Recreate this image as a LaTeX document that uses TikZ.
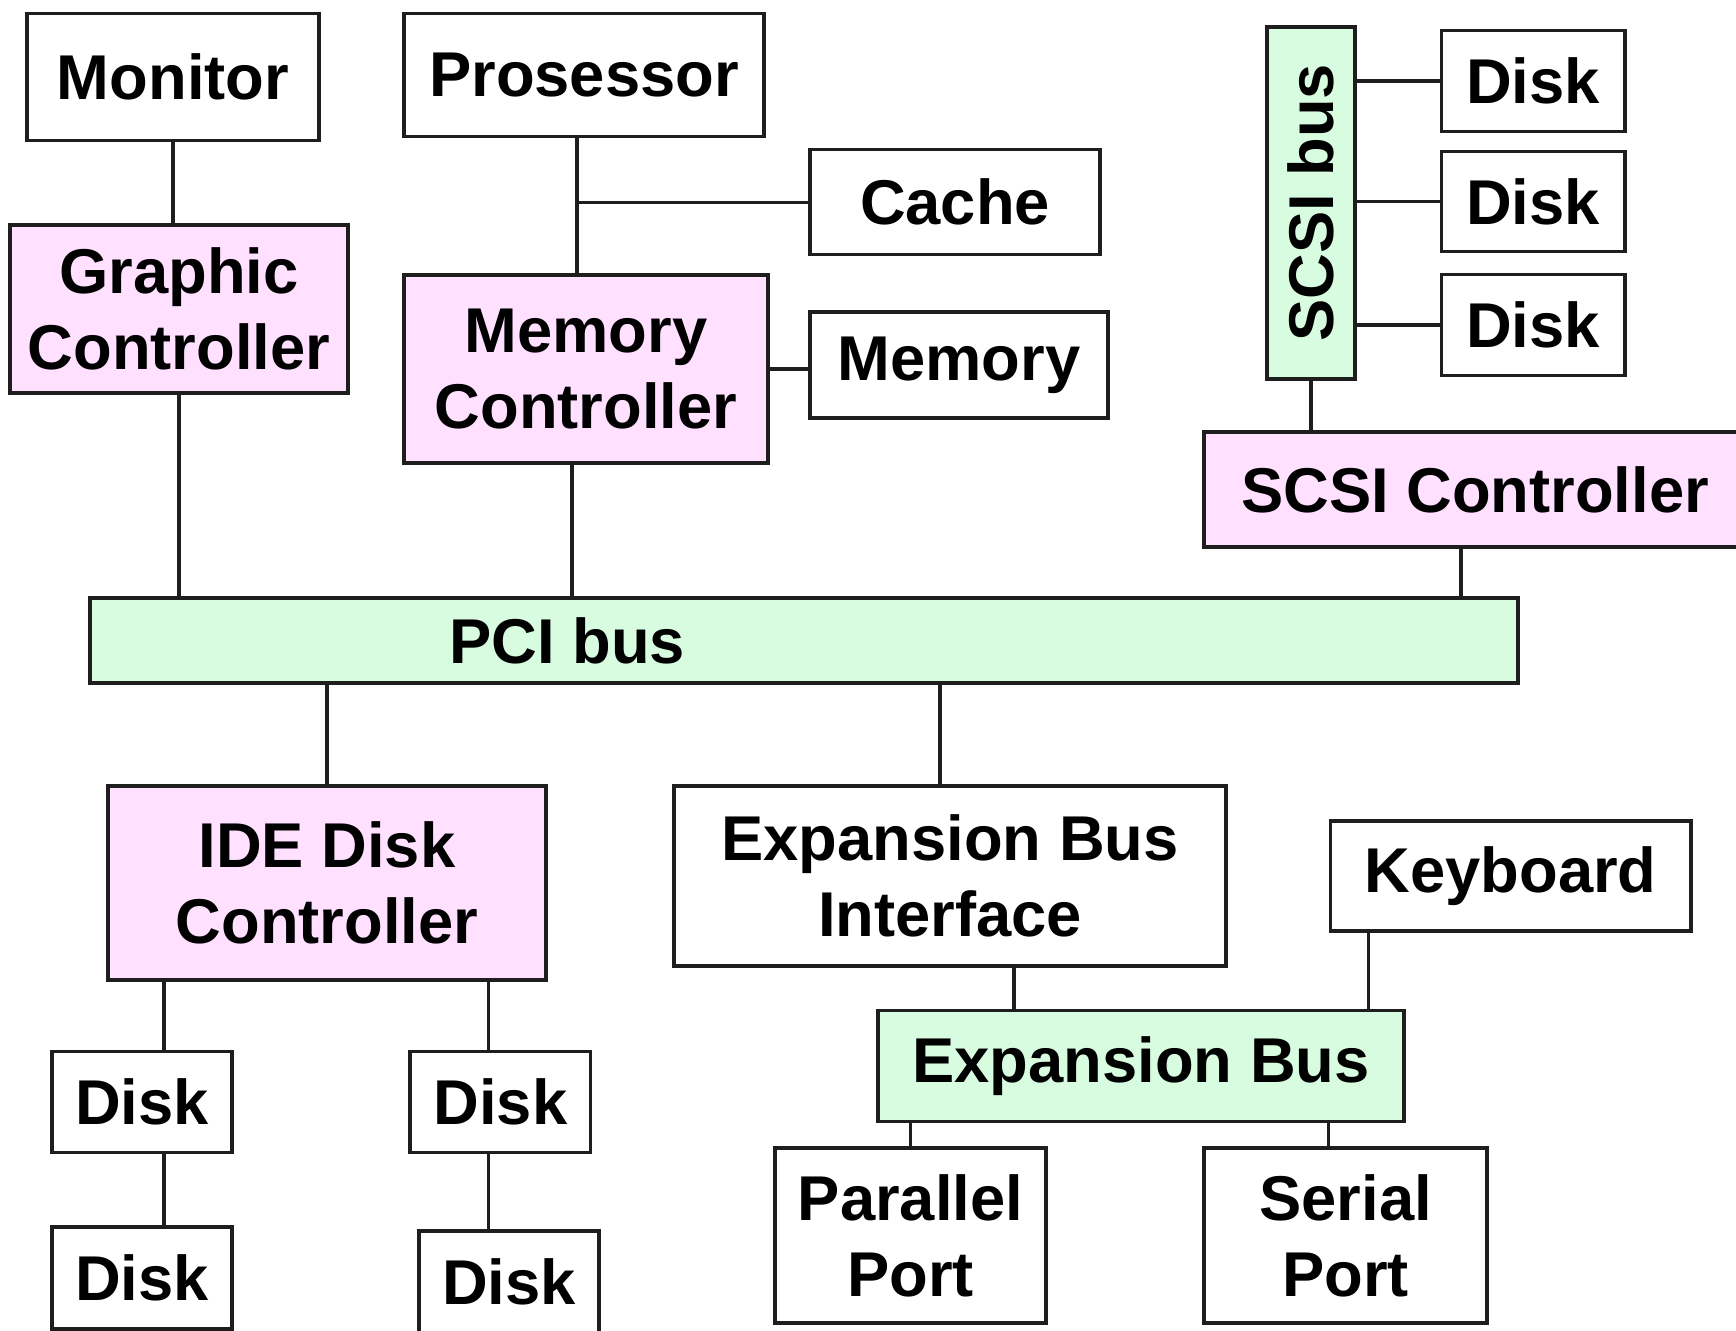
\documentclass[tikz,border=0pt]{standalone}
\usepackage{fontspec}
\usepackage{graphicx}
\setmainfont{Liberation Sans}
\usetikzlibrary{positioning}
\definecolor{CtrlPink}{HTML}{FFE0FF}
\definecolor{BusGreen}{HTML}{D8FCE0}
\definecolor{Wire}{HTML}{1E1E1E}
\tikzset{unit/.style={rectangle,draw=Wire,line width=1.1pt,fill=white,inner sep=0pt,align=center,text=black},ctrl/.style={unit,fill=CtrlPink},bus/.style={unit,fill=BusGreen},link/.style={draw=Wire,line width=1pt}}

\begin{document}
\begin{tikzpicture}[x=0.01cm,y=-0.01cm,font=\bfseries\fontsize{18}{21.6}\selectfont]
\useasboundingbox (0,0) rectangle (1736,1331);
\fill[white] (0,0) rectangle (1736,1331);
\clip (0,0) rectangle (1736,1331);
% upper row
\node[unit,minimum width=2.91cm,minimum height=1.27cm] (Mon) at (173,77) {Monitor};\node[unit,minimum width=3.60cm,minimum height=1.23cm] (Proc) at (584,75) {Prosessor};\node[unit,minimum width=2.89cm,minimum height=1.05cm] (Cache) at (955,202) {Cache};
\node[ctrl,minimum width=3.37cm,minimum height=1.68cm] (Gfx) at (179,309) {Graphic\\Controller};\node[ctrl,minimum width=3.64cm,minimum height=1.88cm] (MemCtrl) at (586,369) {Memory\\Controller};\node[unit,minimum width=2.97cm,minimum height=1.06cm] (Mem) at (959,365) {Memory};
% scsi side
\node[bus,minimum width=0.875cm,minimum height=3.51cm] (SBus) at (1311,203) {\rotatebox{90}{SCSI bus}};
\node[unit,minimum width=1.83cm,minimum height=1.01cm] (SD1) at (1533,81) {Disk};\node[unit,minimum width=1.83cm,minimum height=1.00cm] (SD2) at (1533,201.5) {Disk};\node[unit,minimum width=1.83cm,minimum height=1.01cm] (SD3) at (1533,325) {Disk};
\node[ctrl,minimum width=5.41cm,minimum height=1.15cm] (SCtrl) at (1475,489.5) {SCSI Controller};
% pci bus
\node[bus,minimum width=14.27cm,minimum height=0.85cm,label={[xshift=-2.37cm]center:PCI bus}] (PCI) at (804.3,640.5) {};
% lower part
\node[ctrl,minimum width=4.37cm,minimum height=1.94cm] (IDE) at (327,883) {IDE Disk\\Controller};
\node[unit,minimum width=1.80cm,minimum height=1.01cm] (D1) at (142,1102) {Disk};\node[unit,minimum width=1.80cm,minimum height=1.01cm] (D2) at (500.4,1102) {Disk};
\node[unit,minimum width=1.80cm,minimum height=1.02cm] (D3) at (142,1277.6) {Disk};\node[unit,minimum width=1.80cm,minimum height=1.02cm] (D4) at (509,1282) {Disk};
\node[unit,minimum width=5.52cm,minimum height=1.80cm] (EBI) at (950,876) {Expansion Bus\\Interface};\node[unit,minimum width=3.60cm,minimum height=1.10cm] (Kbd) at (1510.6,876) {Keyboard};
\node[bus,minimum width=5.26cm,minimum height=1.11cm] (XBus) at (1141,1066) {Expansion Bus};
\node[unit,minimum width=2.71cm,minimum height=1.75cm] (Par) at (910.5,1235.6) {Parallel\\Port};\node[unit,minimum width=2.83cm,minimum height=1.75cm] (Ser) at (1345.7,1235.6) {Serial\\Port};
% connectors
\coordinate (CacheTap) at (577,202.6);
\draw[link] (Mon.south) -- (Mon.south |- Gfx.north);\draw[link] (Gfx.south) -- (Gfx.south |- PCI.north);
\draw[link] (Proc.south -| CacheTap) -- (MemCtrl.north -| CacheTap);\draw[link] (CacheTap) -- (CacheTap -| Cache.west);
\draw[link] (MemCtrl.east) -- (MemCtrl.east -| Mem.west);\draw[link] ([xshift=-0.14cm]MemCtrl.south) -- ([xshift=-0.14cm]MemCtrl.south |- PCI.north);
\foreach \d in {SD1,SD2,SD3} \draw[link] (\d.west -| SBus.east) -- (\d.west);
\draw[link] (SBus.south) -- (SBus.south |- SCtrl.north);\draw[link] ([xshift=-0.14cm]SCtrl.south) -- ([xshift=-0.14cm]SCtrl.south |- PCI.north);
\draw[link] (PCI.south -| IDE.north) -- (IDE.north);\draw[link] ([xshift=-0.10cm]EBI.north) -- ([xshift=-0.10cm]EBI.north |- PCI.south);
\draw[link] ([xshift=0.22cm]D1.north) -- ([xshift=0.22cm]D1.north |- IDE.south);\draw[link] ([xshift=0.22cm]D1.south) -- ([xshift=0.22cm]D1.south |- D3.north);
\draw[link] ([xshift=-0.12cm]D2.north) -- ([xshift=-0.12cm]D2.north |- IDE.south);\draw[link] ([xshift=-0.12cm]D2.south) -- ([xshift=-0.12cm]D2.south |- D4.north);
\draw[link] ([xshift=0.64cm]EBI.south) -- ([xshift=0.64cm]EBI.south |- XBus.north);\draw[link] ([xshift=-1.42cm]Kbd.south) -- ([xshift=-1.42cm]Kbd.south |- XBus.north);
\draw[link] (Par.north) -- (Par.north |- XBus.south);\draw[link] ([xshift=-0.17cm]Ser.north) -- ([xshift=-0.17cm]Ser.north |- XBus.south);
\end{tikzpicture}
\end{document}
